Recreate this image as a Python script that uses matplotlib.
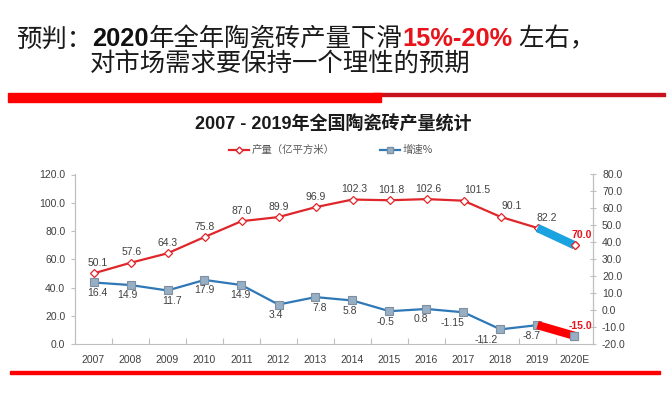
import matplotlib
matplotlib.use("Agg")
import matplotlib.pyplot as plt
from matplotlib.lines import Line2D
from matplotlib.patches import Rectangle

plt.rcParams['font.family'] = ['Liberation Sans', 'Noto Sans CJK SC', 'DejaVu Sans']

# ---------------- data ----------------
years = ["2007", "2008", "2009", "2010", "2011", "2012", "2013",
         "2014", "2015", "2016", "2017", "2018", "2019", "2020E"]
production = [50.1, 57.6, 64.3, 75.8, 87.0, 89.9, 96.9,
              102.3, 101.8, 102.6, 101.5, 90.1, 82.2, 70.0]
growth = [16.4, 14.9, 11.7, 17.9, 14.9, 3.4, 7.8,
          5.8, -0.5, 0.8, -1.15, -11.2, -8.7, -15.0]
growth_labels = ["16.4", "14.9", "11.7", "17.9", "14.9", "3.4", "7.8",
                 "5.8", "-0.5", "0.8", "-1.15", "-11.2", "-8.7", "-15.0"]
left_ticks = [0, 20, 40, 60, 80, 100, 120]
right_ticks = [-20, -10, 0, 10, 20, 30, 40, 50, 60, 70, 80]

chart_title = "2007 - 2019年全国陶瓷砖产量统计"
legend_prod = "产量（亿平方米）"
legend_growth = "增速%"

# ---------------- style ----------------
W, H = 672, 393
RED = "#E0262A"
BLUE = "#2E78B8"
GREY_TXT = "#404040"
AXIS_GREY = "#BFBFBF"

fig = plt.figure(figsize=(W / 100, H / 100), dpi=100)
fig.patch.set_facecolor("white")


def fx(px):
    return px / W


def fy(py):
    return 1 - py / H


# ---------------- header title (mixed styles) ----------------
renderer = fig.canvas.get_renderer()
segments = [("预判：", "normal", "#1a1a1a"),
            ("2020", "bold", "#111111"),
            ("年全年陶瓷砖产量下滑", "normal", "#1a1a1a"),
            ("15%-20%", "bold", "#E8141B"),
            (" 左右，", "normal", "#1a1a1a")]
x = 16
for txt, wt, col in segments:
    t = fig.text(fx(x), fy(46.5), txt, fontsize=18.3, fontweight=wt, color=col,
                 ha="left", va="baseline",
                 family=['Liberation Sans', 'Noto Sans CJK SC'])
    bb = t.get_window_extent(renderer=renderer)
    x += bb.width
fig.text(fx(90), fy(72), "对市场需求要保持一个理性的预期", fontsize=18.3,
         color="#1a1a1a", ha="left", va="baseline",
         family=['Liberation Sans', 'Noto Sans CJK SC'])

# decorative red bars
fig.patches.append(Rectangle((fx(373), fy(95.5)), fx(665) - fx(373), 2.6 / H,
                             transform=fig.transFigure, color="#C8141E", zorder=1))
fig.patches.append(Rectangle((fx(8), fy(102)), fx(381) - fx(8), 8.7 / H,
                             transform=fig.transFigure, color="#FF0000", zorder=2))
fig.patches.append(Rectangle((fx(10), fy(374)), fx(660) - fx(10), 3.2 / H,
                             transform=fig.transFigure, color="#FF0000", zorder=2))

# chart title
fig.text(fx(333), fy(124), chart_title, fontsize=13, fontweight="bold",
         color="#1a1a1a", ha="center", va="center",
         family=['Liberation Sans', 'Noto Sans CJK SC'])

# ---------------- axes ----------------
ax = fig.add_axes([fx(75), fy(344.3), fx(593) - fx(75), (344.3 - 174.5) / H])
ax2 = ax.twinx()
xs = list(range(len(years)))

ax.plot(xs, production, color=RED, lw=1.6, marker="D", ms=4.2,
        mfc="white", mec=RED, mew=0.9, zorder=3)
ax.plot(xs[-2:], production[-2:], color="#1AA3E0", lw=6, solid_capstyle="butt", zorder=4)
ax.plot(xs[-1:], production[-1:], ls="none", marker="D", ms=4.2,
        mfc="white", mec=RED, mew=0.9, zorder=5)

ax2.plot(xs, growth, color=BLUE, lw=1.6, marker="s", ms=5.5,
         mfc="#97AFC5", mec="#7F8FA0", mew=0.8, zorder=3)
ax2.plot(xs[-2:], growth[-2:], color="#FF0000", lw=6, solid_capstyle="butt", zorder=4)
ax2.plot(xs[-1:], growth[-1:], ls="none", marker="s", ms=5.5,
         mfc="#97AFC5", mec="#7F8FA0", mew=0.8, zorder=5)

# production labels (above), offsets in points
prod_dx = [3, 1, 0, 0, 0, 0, 0, 1, 1, 1, 10, 8, 7, 5]
for i, v in enumerate(production):
    last = i == len(production) - 1
    ax.annotate(f"{v:.1f}", (xs[i], v), xytext=(prod_dx[i], 7.5),
                textcoords="offset points", ha="center", va="center",
                fontsize=7.5, color="#E8141B" if last else GREY_TXT,
                fontweight="bold" if last else "normal", zorder=6)

# growth labels (below)
gr_dx = [3, -2, 3, 0, -1, -2, 3, -2, -3, -4, -8, -10, -4, 4]
gr_dy = [-7.5] * 13 + [7]
for i, v in enumerate(growth):
    last = i == len(growth) - 1
    ax2.annotate(growth_labels[i], (xs[i], v), xytext=(gr_dx[i], gr_dy[i]),
                 textcoords="offset points", ha="center", va="center",
                 fontsize=7.5, color="#E8141B" if last else GREY_TXT,
                 fontweight="bold" if last else "normal", zorder=6)

ax.set_xlim(-0.5, len(years) - 0.5)
ax.set_ylim(0, 120)
ax2.set_ylim(-20, 80)
ax.set_yticks(left_ticks)
ax.set_yticklabels([f"{t:.1f}" for t in left_ticks])
ax2.set_yticks(right_ticks)
ax2.set_yticklabels([f"{t:.1f}" for t in right_ticks])

ax.set_xticks([i + 0.5 for i in xs[:-1]])
ax.set_xticklabels([])
ax.set_xticks(xs, minor=True)
ax.set_xticklabels(years, minor=True)
ax.tick_params(axis="x", which="major", direction="in", length=4,
               color=AXIS_GREY, width=0.8)
ax.tick_params(axis="x", which="minor", length=0, pad=8, labelsize=7.5,
               labelcolor=GREY_TXT)
ax.tick_params(axis="y", direction="out", length=3, color=AXIS_GREY,
               width=0.8, labelsize=7.5, labelcolor=GREY_TXT, pad=4)
ax2.tick_params(axis="y", direction="inout", length=5, color=AXIS_GREY,
                width=0.8, labelsize=7.5, labelcolor=GREY_TXT, pad=4)

for a in (ax, ax2):
    a.spines["top"].set_visible(False)
    for s in ("left", "right", "bottom"):
        a.spines[s].set_color(AXIS_GREY)
        a.spines[s].set_linewidth(0.8)
    a.patch.set_visible(False)
ax2.spines["bottom"].set_visible(False)

# legend
handles = [Line2D([], [], color=RED, lw=1.6, marker="D", ms=3.5,
                  mfc="white", mec=RED),
           Line2D([], [], color=BLUE, lw=1.6, marker="s", ms=4.5,
                  mfc="#97AFC5", mec="#7F8FA0")]
leg = fig.legend(handles, [legend_prod, legend_growth], loc="center",
                 bbox_to_anchor=(fx(331), fy(150)), ncol=2, frameon=False,
                 handlelength=1.9, handletextpad=0.3,
                 columnspacing=4.3, prop={'family': ['Noto Sans CJK SC'], 'size': 7.5})
for t in leg.get_texts():
    t.set_color("#595959")

fig.savefig("out.png", dpi=100, facecolor="white")
